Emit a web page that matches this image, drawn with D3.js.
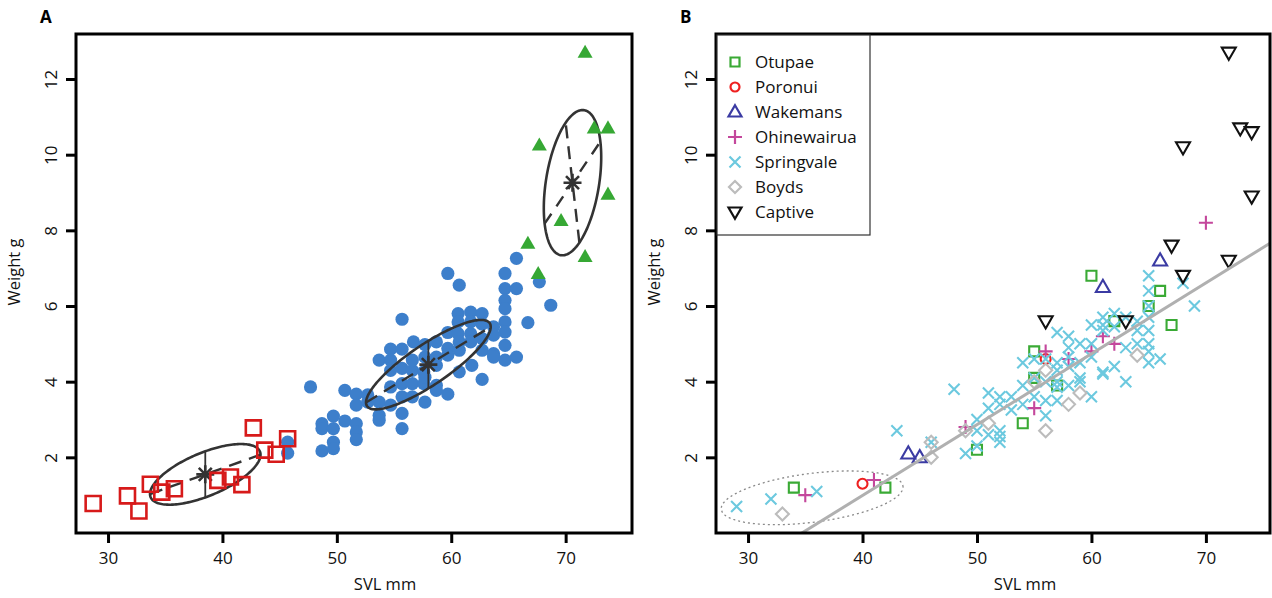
<!DOCTYPE html>
<html>
<head>
<meta charset="utf-8">
<script src="https://cdn.jsdelivr.net/npm/d3@7"></script>
<style>
  body { margin: 0; background: #fff; }
  svg text { font-family: "Open Sans", "DejaVu Sans", sans-serif; }
</style>
</head>
<body>
<svg id="chart" width="1272" height="598"></svg>
<script>
// ---- data (SVL mm, weight g) ----
// panel A groups
const groupSmall = [[28.7,0.78],[31.7,0.98],[32.7,0.58],[33.7,1.29],[34.7,1.08],[35.8,1.17],
  [39.6,1.39],[40.7,1.48],[41.7,1.28],[42.7,2.78],[43.7,2.19],[44.7,2.08],[45.7,2.49]];
const groupMid = [[45.7,2.40],[45.7,2.11],[47.7,3.86],[48.7,2.89],[48.7,2.76],[48.7,2.17],
  [49.7,3.09],[49.7,2.76],[49.7,2.40],[49.7,2.23],[50.7,3.77],[50.7,2.96],[51.7,3.67],[51.7,3.38],
  [51.7,2.89],[51.7,2.67],[51.7,2.47],[52.7,3.46],[52.7,3.65],[53.7,4.57],[53.7,3.46],[53.7,3.11],
  [53.7,2.98],[54.7,4.86],[54.7,4.30],[54.7,3.86],[54.7,3.38],[54.7,4.57],[55.7,5.65],[55.7,4.86],
  [55.7,4.35],[55.7,3.95],[55.7,3.16],[55.7,2.76],[55.7,3.60],[56.6,4.30],[56.6,4.57],[56.6,3.95],
  [56.6,3.60],[56.7,5.05],[57.6,4.26],[57.6,3.95],[57.7,4.98],[57.7,3.46],[57.7,4.12],[57.7,4.65],
  [58.7,5.05],[58.7,4.65],[58.7,4.43],[58.7,3.90],[58.7,3.77],[59.7,6.86],[59.7,4.88],[59.7,4.70],
  [59.7,3.67],[59.7,5.30],[60.7,6.55],[60.6,5.80],[60.6,5.58],[60.6,5.27],[60.7,4.83],[60.7,4.26],
  [60.7,5.05],[61.7,5.84],[61.7,5.58],[61.7,5.27],[61.7,5.05],[61.8,4.43],[62.7,5.80],[62.7,5.52],
  [62.7,5.14],[62.7,4.83],[62.7,4.06],[63.7,5.45],[63.7,5.23],[63.7,4.74],[63.7,4.65],[64.7,6.86],
  [64.7,6.46],[64.7,6.15],[64.7,5.93],[64.7,5.58],[64.7,5.31],[64.7,4.96],[64.7,4.57],[65.7,7.26],
  [65.7,6.46],[65.7,4.65],[66.7,5.56],[67.7,6.64],[68.7,6.02]];
const groupLarge = [[71.7,12.7],[67.7,10.25],[72.5,10.7],[73.7,10.7],[73.7,8.95],[69.6,8.25],
  [66.7,7.65],[71.7,7.3],[67.6,6.85]];

// ellipses in panel A: centre, half major axis, conjugate half axis, axis rotation, dashed conj
const ellipseCentres = [[38.5,1.55],[58.0,4.45],[70.6,9.26]];
const ellipseMajor = [[4.83,0.52],[5.45,1.0],[0.88,1.92]];
const ellipseConj = [[0,0.61],[0,0.63],[2.35,0]];
const ellipseAxisTurn = [0, 0, -0.6];

// panel B populations
const otupae = [[34,1.2],[42,1.2],[50,2.2],[54,2.9],[55,4.8],[55,4.1],[57,3.9],[60,6.8],[62,5.6],
  [65,6.0],[66,6.4],[67,5.5]];
const poronui = [[40,1.3],[56,4.6]];
const wakemans = [[44,2.1],[45,2.0],[61,6.5],[66,7.2]];
const ohinewairua = [[35,1.0],[41,1.4],[49,2.8],[55,3.3],[56,4.8],[58,4.6],[60,4.8],[61,5.2],
  [62,5.0],[70,8.2]];
const springvale = [[29,0.7],[32,0.9],[36,1.1],[43,2.7],[46,2.4],[48,3.8],[49,2.1],[50,3.0],
  [50,2.7],[50,2.3],[51,3.7],[51,3.3],[51,2.6],[52,3.6],[52,3.4],[52,2.7],[52,2.55],[52,2.4],
  [53,3.25],[53,3.6],[54,4.5],[54,3.4],[54,3.9],[55,4.1],[55,3.6],[55,4.6],[56,4.6],[56,4.0],
  [56,3.1],[56,3.5],[57,4.5],[57,4.3],[57,4.0],[57,3.85],[57,3.5],[57,5.3],[58,4.9],[58,4.65],
  [58,4.4],[58,3.9],[58,5.2],[59,5.0],[59,4.1],[59,4.0],[59,4.5],[60,5.0],[60,4.65],[60,3.6],
  [60,5.5],[61,5.7],[61,5.35],[61,4.25],[61,4.2],[61,5.5],[62,5.8],[62,5.45],[62,4.4],[63,5.7],
  [63,4.9],[63,4.0],[64,5.35],[64,5.0],[64,5.6],[65,6.8],[65,6.4],[65,6.0],[65,5.7],[65,5.35],
  [65,5.0],[65,4.8],[65,4.5],[66,4.6],[68,6.6],[69,6.0]];
const boyds = [[33,0.5],[46,2.0],[46,2.4],[49,2.7],[51,2.9],[55,4.0],[56,4.3],[56,2.7],[58,3.4],
  [59,3.7],[64,4.7]];
const captive = [[72,12.7],[73,10.7],[74,10.6],[68,10.2],[74,8.9],[67,7.6],[72,7.2],[68,6.8],
  [56,5.6],[63,5.6]];

const popNames = ["Otupae","Poronui","Wakemans","Ohinewairua","Springvale","Boyds","Captive"];
const popData = [otupae, poronui, wakemans, ohinewairua, springvale, boyds, captive];
const popColors = ["#3aaa35","#ee2020","#3b3ba3","#c4479c","#6cc9df","#bcbcbc","#111111"];
const popShapes = ["square","circle","triUp","plus","times","diamond","triDown"];

// regression line and small-animal ellipse in panel B
const regIntercept = -6.50, regSlope = 0.1873;
const ellipseBCentre = [35.6,0.93], ellipseBMajor = [7.94,0.285], ellipseBConj = [0,0.65];

const xTicks = [30,40,50,60,70];
const yTicks = [2,4,6,8,10,12];

// ---- drawing ----
const svg = d3.select("#chart");
const plotTop = 34, plotBottom = 533;

function shapePath(type, s) {
  const h = s / 2;
  if (type === "square") return `M${-h},${-h}H${h}V${h}H${-h}Z`;
  if (type === "circle") return `M${h},0A${h},${h} 0 1,1 ${-h},0A${h},${h} 0 1,1 ${h},0Z`;
  if (type === "triUp") { const H = s * 0.87; return `M0,${-H*0.6}L${h},${H*0.4}L${-h},${H*0.4}Z`; }
  if (type === "triDown") { const H = s * 0.87; return `M0,${H*0.6}L${h},${-H*0.4}L${-h},${-H*0.4}Z`; }
  if (type === "plus") return `M${-h},0H${h}M0,${-h}V${h}`;
  if (type === "times") return `M${-h},${-h}L${h},${h}M${-h},${h}L${h},${-h}`;
  if (type === "diamond") return `M0,${-h}L${h},0L0,${h}L${-h},0Z`;
}

function makePanel(left, right, xDomain, label) {
  const x = d3.scaleLinear().domain(xDomain).range([left, right]);
  const y = d3.scaleLinear().domain([0, 13.19]).range([plotBottom, plotTop]);
  const g = svg.append("g");

  const clipId = "clip-" + label;
  svg.append("clipPath").attr("id", clipId)
    .append("rect").attr("x", left).attr("y", plotTop).attr("width", right - left).attr("height", plotBottom - plotTop);

  const xAxis = g.append("g").attr("transform", `translate(0,${plotBottom})`)
    .call(d3.axisBottom(x).tickValues(xTicks).tickSize(10).tickSizeOuter(0));
  xAxis.select(".domain").remove();
  xAxis.selectAll("line").attr("stroke", "#000").attr("stroke-width", 3);
  xAxis.selectAll("text").attr("y", 25).attr("dy", "0.35em")
    .attr("fill", "#111").style("font-size", "17px");

  const yAxis = g.append("g").attr("transform", `translate(${left},0)`)
    .call(d3.axisLeft(y).tickValues(yTicks).tickSize(10).tickSizeOuter(0));
  yAxis.select(".domain").remove();
  yAxis.selectAll("line").attr("stroke", "#000").attr("stroke-width", 3);
  yAxis.selectAll("text").attr("x", 0).attr("dy", "0.35em").attr("text-anchor", "middle")
    .attr("transform", "translate(-25,0) rotate(-90)")
    .attr("fill", "#111").style("font-size", "17px");

  g.append("text").attr("x", left + 309).attr("y", 590)
    .attr("text-anchor", "middle").style("font-size", "16.5px").attr("fill", "#111").text("SVL mm");
  g.append("text").attr("transform", `translate(${left - 56},272) rotate(-90)`)
    .attr("text-anchor", "middle").style("font-size", "16.5px").attr("fill", "#111").text("Weight g");
  g.append("text").attr("x", left - 36).attr("y", 23)
    .style("font-size", "17px").style("font-weight", "bold").attr("fill", "#000").text(label);

  const plot = g.append("g").attr("clip-path", `url(#${clipId})`);
  return { x, y, g, plot, left, right };
}

function ellipsePoints(c, a, b) {
  return d3.range(0, 2 * Math.PI + 0.001, Math.PI / 90)
    .map(t => [c[0] + a[0] * Math.cos(t) + b[0] * Math.sin(t), c[1] + a[1] * Math.cos(t) + b[1] * Math.sin(t)]);
}

// ---------- panel A ----------
const A = makePanel(76, 632, [27.2, 75.8], "A");
const lineA = d3.line().x(d => A.x(d[0])).y(d => A.y(d[1]));

A.plot.selectAll(".mid").data(groupMid).join("circle")
  .attr("cx", d => A.x(d[0])).attr("cy", d => A.y(d[1])).attr("r", 6.6)
  .attr("fill", "#3d7fcb");

ellipseCentres.forEach((c, i) => {
  const a = ellipseMajor[i], b = ellipseConj[i];
  A.plot.append("path").attr("d", lineA(ellipsePoints(c, a, b)) + "Z")
    .attr("fill", "none").attr("stroke", "#333").attr("stroke-width", 2.6);
  // another conjugate pair of the same ellipse, used for the drawn axes
  const phi = ellipseAxisTurn[i], cs = Math.cos(phi), sn = Math.sin(phi);
  const a2 = [a[0] * cs + b[0] * sn, a[1] * cs + b[1] * sn];
  const b2 = [-a[0] * sn + b[0] * cs, -a[1] * sn + b[1] * cs];
  A.plot.append("path").attr("d", lineA([[c[0] - a2[0], c[1] - a2[1]], [c[0] + a2[0], c[1] + a2[1]]]))
    .attr("stroke", "#333").attr("stroke-width", 2.4).attr("stroke-dasharray", "13,8");
  A.plot.append("path").attr("d", lineA([[c[0] - b2[0], c[1] - b2[1]], [c[0] + b2[0], c[1] + b2[1]]]))
    .attr("stroke", "#333").attr("stroke-width", i === 2 ? 2.4 : 1.8)
    .attr("stroke-dasharray", i === 2 ? "12,9" : null);
  A.plot.append("path").attr("transform", `translate(${A.x(c[0])},${A.y(c[1])})`)
    .attr("d", "M-9,0H9M0,-9V9M-6.5,-6.5L6.5,6.5M-6.5,6.5L6.5,-6.5")
    .attr("stroke", "#333").attr("stroke-width", 2.6);
});

A.plot.selectAll(".small").data(groupSmall).join("path")
  .attr("transform", d => `translate(${A.x(d[0])},${A.y(d[1])})`)
  .attr("d", shapePath("square", 15)).attr("fill", "none")
  .attr("stroke", "#d71a1a").attr("stroke-width", 2.6);

A.plot.selectAll(".large").data(groupLarge).join("path")
  .attr("transform", d => `translate(${A.x(d[0])},${A.y(d[1])})`)
  .attr("d", shapePath("triUp", 15)).attr("fill", "#36a834");

A.g.append("rect").attr("x", A.left).attr("y", plotTop).attr("width", A.right - A.left)
  .attr("height", plotBottom - plotTop).attr("fill", "none").attr("stroke", "#000").attr("stroke-width", 3);

// ---------- panel B ----------
const B = makePanel(716, 1270, [27.2, 75.6], "B");
const lineB = d3.line().x(d => B.x(d[0])).y(d => B.y(d[1]));

popData.forEach((pts, i) => {
  const sz = { square: 10, circle: 10, triUp: 14, plus: 14, times: 11, diamond: 13, triDown: 14 }[popShapes[i]];
  B.plot.selectAll(".p" + i).data(pts).join("path")
    .attr("transform", d => `translate(${B.x(d[0])},${B.y(d[1])})`)
    .attr("d", shapePath(popShapes[i], sz)).attr("fill", "none")
    .attr("stroke", popColors[i]).attr("stroke-width", 2.1);
});

B.plot.append("path")
  .attr("d", lineB(ellipsePoints(ellipseBCentre, ellipseBMajor, ellipseBConj)) + "Z")
  .attr("fill", "none").attr("stroke", "#8a8a8a").attr("stroke-width", 1.3).attr("stroke-dasharray", "2,3");

const xr = B.x.domain();
B.plot.append("path")
  .attr("d", lineB(xr.map(v => [v, regIntercept + regSlope * v])))
  .attr("stroke", "#b0b0b0").attr("stroke-width", 3);

B.g.append("rect").attr("x", B.left).attr("y", plotTop).attr("width", B.right - B.left)
  .attr("height", plotBottom - plotTop).attr("fill", "none").attr("stroke", "#000").attr("stroke-width", 3);

// legend
const legend = B.g.append("g");
legend.append("rect").attr("x", 717).attr("y", 35).attr("width", 153).attr("height", 200)
  .attr("fill", "#fff").attr("stroke", "#333").attr("stroke-width", 1.2);
popNames.forEach((name, i) => {
  const yy = 62 + i * 25;
  const sz = { square: 9, circle: 9, triUp: 13, plus: 14, times: 11, diamond: 12, triDown: 13 }[popShapes[i]];
  legend.append("path").attr("transform", `translate(735,${yy})`)
    .attr("d", shapePath(popShapes[i], sz)).attr("fill", "none")
    .attr("stroke", popColors[i]).attr("stroke-width", 2.2);
  legend.append("text").attr("x", 755).attr("y", yy).attr("dy", "0.35em")
    .style("font-size", "17px").attr("fill", "#111").text(name);
});
</script>
</body>
</html>
